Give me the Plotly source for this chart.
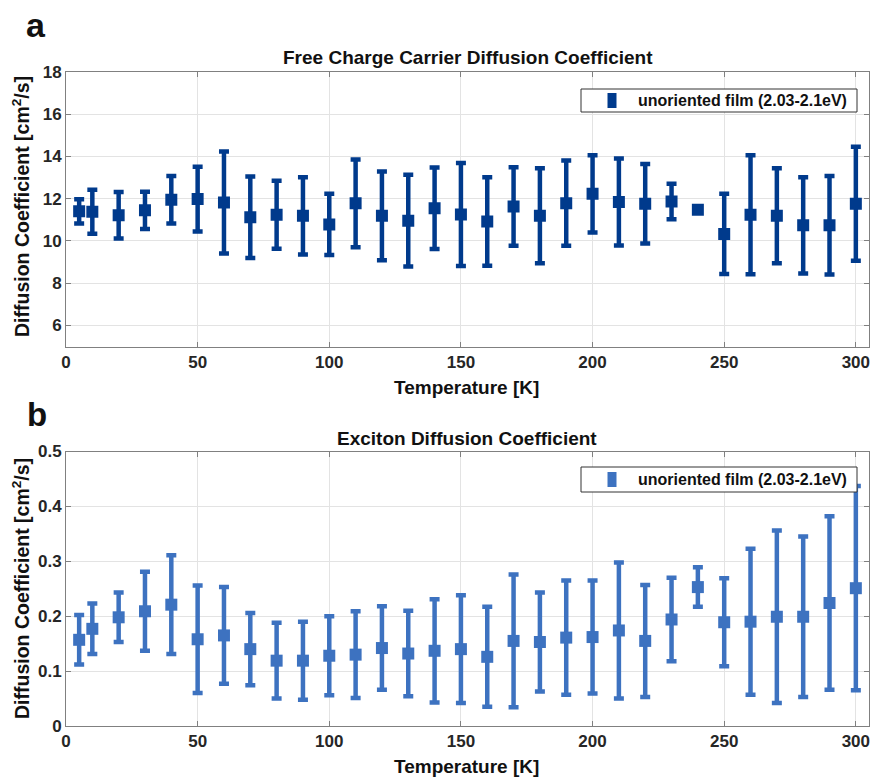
import plotly.graph_objects as go
from plotly.subplots import make_subplots

temperature = [5, 10, 20, 30, 40, 50, 60, 70, 80, 90, 100, 110, 120, 130, 140, 150,
               160, 170, 180, 190, 200, 210, 220, 230, 240, 250, 260, 270, 280, 290, 300]

free_carrier_D = [11.40, 11.38, 11.22, 11.45, 11.95, 11.98, 11.82, 11.12, 11.24, 11.19, 10.78,
                  11.78, 11.19, 10.96, 11.55, 11.25, 10.92, 11.63, 11.19, 11.79, 12.23, 11.84,
                  11.76, 11.87, 11.48, 10.33, 11.24, 11.19, 10.74, 10.74, 11.76]
free_carrier_err = [0.57, 1.04, 1.10, 0.88, 1.13, 1.53, 2.42, 1.93, 1.61, 1.83, 1.45,
                    2.08, 2.10, 2.17, 1.93, 2.44, 2.10, 1.86, 2.25, 2.02, 1.83, 2.06,
                    1.88, 0.84, 0.12, 1.90, 2.82, 2.25, 2.28, 2.33, 2.70]

exciton_D = [0.157, 0.177, 0.198, 0.209, 0.221, 0.158, 0.165, 0.140, 0.119, 0.119, 0.128,
             0.130, 0.142, 0.132, 0.137, 0.140, 0.126, 0.155, 0.153, 0.161, 0.162, 0.174,
             0.155, 0.194, 0.253, 0.189, 0.190, 0.199, 0.199, 0.224, 0.251]
exciton_err = [0.045, 0.046, 0.045, 0.072, 0.090, 0.098, 0.088, 0.066, 0.069, 0.071, 0.072,
               0.079, 0.076, 0.078, 0.094, 0.098, 0.091, 0.121, 0.090, 0.104, 0.103, 0.124,
               0.102, 0.076, 0.036, 0.080, 0.133, 0.157, 0.146, 0.158, 0.186]

series_name = "unoriented film (2.03-2.1eV)"
x_ticks = [0, 50, 100, 150, 200, 250, 300]
top_y_ticks = [6, 8, 10, 12, 14, 16, 18]
bottom_y_ticks = [0, 0.1, 0.2, 0.3, 0.4, 0.5]
bottom_y_ticktext = ["0", "0.1", "0.2", "0.3", "0.4", "0.5"]

dark_blue = "#003A8C"
light_blue = "#3D72C0"
FONT = "Liberation Sans, Arial, sans-serif"

W, H = 872, 778
L, R, T, B = 66, 3, 72, 52
pw = W - L - R
ph = H - T - B


def px_x(px):
    return (px - L) / pw


def px_y(py):
    return (H - B - py) / ph


fig = make_subplots(rows=2, cols=1, vertical_spacing=(452 - 347) / ph)

fig.add_trace(go.Scatter(
    x=temperature, y=free_carrier_D, mode="markers", name=series_name,
    marker=dict(symbol="square", size=12, color=dark_blue),
    error_y=dict(type="data", array=free_carrier_err, visible=True,
                 color=dark_blue, thickness=4.5, width=5),
    showlegend=False,
), row=1, col=1)

fig.add_trace(go.Scatter(
    x=temperature, y=exciton_D, mode="markers", name=series_name,
    marker=dict(symbol="square", size=12, color=light_blue),
    error_y=dict(type="data", array=exciton_err, visible=True,
                 color=light_blue, thickness=4.5, width=5),
    showlegend=False,
), row=2, col=1)

axis_common = dict(
    showline=True, linecolor="#808080", linewidth=1, mirror="ticks",
    ticks="inside", ticklen=5, tickcolor="#808080",
    showgrid=True, gridcolor="#E3E3E3", gridwidth=1, zeroline=False,
    tickfont=dict(family=FONT, size=17, color="#262626", weight="bold"),
)

fig.update_xaxes(range=[0, 305], tickvals=x_ticks, **axis_common)
fig.update_yaxes(range=[5, 18], tickvals=top_y_ticks, row=1, col=1, **axis_common)
fig.update_yaxes(range=[0, 0.5], tickvals=bottom_y_ticks, ticktext=bottom_y_ticktext,
                 row=2, col=1, **axis_common)

fig.update_layout(
    width=W, height=H,
    margin=dict(l=L, r=R, t=T, b=B),
    plot_bgcolor="white", paper_bgcolor="white",
    showlegend=False,
)

# legend boxes (drawn like the MATLAB legends)
for (box_top, box_bot, color) in [(89, 112, dark_blue), (467, 492, light_blue)]:
    fig.add_shape(type="rect", xref="paper", yref="paper",
                  x0=px_x(581), x1=px_x(857), y0=px_y(box_bot), y1=px_y(box_top),
                  line=dict(color="#333333", width=1), fillcolor="white", layer="above")
    cy = (box_top + box_bot) / 2
    fig.add_shape(type="rect", xref="paper", yref="paper",
                  x0=px_x(607.5), x1=px_x(616.5), y0=px_y(cy + 7.5), y1=px_y(cy - 7.5),
                  line=dict(width=0), fillcolor=color, layer="above")
    fig.add_annotation(text=series_name, x=px_x(849), y=px_y(cy), xref="paper", yref="paper",
                       xanchor="right", yanchor="middle", showarrow=False,
                       font=dict(family=FONT, size=16, color="#111111", weight="bold"))

ann_font = dict(family=FONT, color="#111111", weight="bold")
annotations = [
    dict(text="a", x=px_x(36), y=px_y(25), size=34),
    dict(text="b", x=px_x(37), y=px_y(415), size=33),
    dict(text="Free Charge Carrier Diffusion Coefficient", x=px_x(468), y=px_y(58), size=19),
    dict(text="Exciton Diffusion Coefficient", x=px_x(467), y=px_y(438), size=19),
    dict(text="Temperature [K]", x=px_x(466), y=px_y(388), size=19),
    dict(text="Temperature [K]", x=px_x(466), y=px_y(767), size=19),
]
for a in annotations:
    fig.add_annotation(text=a["text"], x=a["x"], y=a["y"], xref="paper", yref="paper",
                       xanchor="center", yanchor="middle", showarrow=False,
                       font=dict(size=a["size"], **ann_font))

for cy in (207, 589):
    fig.add_annotation(text="Diffusion Coefficient [cm<sup>2</sup>/s]", x=px_x(21), y=px_y(cy),
                       xref="paper", yref="paper", xanchor="center", yanchor="middle",
                       showarrow=False, textangle=-90,
                       font=dict(size=19.5, **ann_font))

fig.write_html("out.html", config={"displayModeBar": False},
               post_script="document.body.style.margin='0';")
